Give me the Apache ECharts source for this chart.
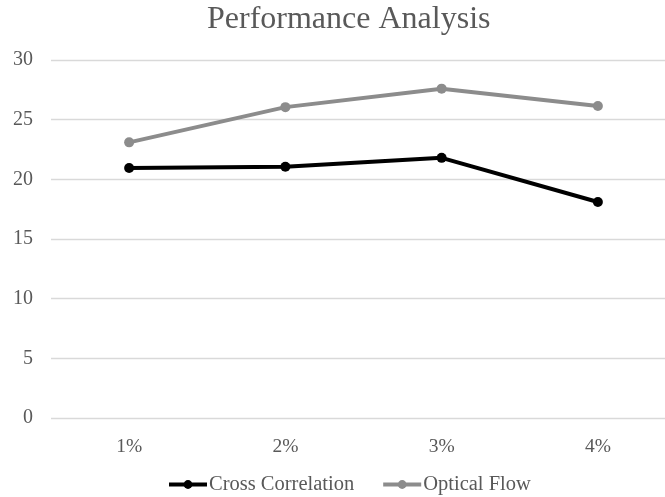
<!DOCTYPE html>
<html>
<head>
<meta charset="utf-8">
<script src="https://cdn.jsdelivr.net/npm/echarts@6/dist/echarts.min.js"></script>
<style>html,body{margin:0;padding:0;background:#fff;overflow:hidden}#c{width:680px;height:497px}</style>
</head>
<body>
<div id="c"></div>
<script>
var categories = ['1%', '2%', '3%', '4%'];
var crossCorrelation = [20.95, 21.05, 21.8, 18.1];
var opticalFlow = [23.1, 26.05, 27.6, 26.15];
var yTicks = [0, 5, 10, 15, 20, 25, 30];

var font = '"Liberation Serif", "DejaVu Serif", serif';
var chart = echarts.init(document.getElementById('c'), null, {renderer: 'canvas'});
chart.setOption({
  animation: false,
  backgroundColor: '#ffffff',
  title: {
    text: 'Performance Analysis',
    left: 202,
    top: -1,
    textStyle: {fontFamily: font, fontSize: 32, fontWeight: 'normal', color: '#595959'}
  },
  legend: {
    bottom: -3,
    left: 162,
    itemWidth: 38,
    itemHeight: 11,
    itemGap: 27,
    lineStyle: {width: 4},
    textStyle: {fontFamily: font, fontSize: 20.5, color: '#595959', padding: [0, 0, 0, -3]},
    data: ['Cross Correlation', 'Optical Flow']
  },
  grid: {left: 51, right: 4, top: 60, bottom: 79, containLabel: false},
  xAxis: {
    type: 'category',
    data: categories,
    boundaryGap: true,
    axisLine: {show: false},
    axisTick: {show: false},
    axisLabel: {fontFamily: font, fontSize: 19.5, color: '#595959', margin: 19}
  },
  yAxis: {
    type: 'value',
    min: yTicks[0],
    max: yTicks[yTicks.length - 1],
    interval: 5,
    axisLine: {show: false},
    axisTick: {show: false},
    splitLine: {lineStyle: {color: '#d9d9d9', width: 1.3}},
    axisLabel: {fontFamily: font, fontSize: 20, color: '#595959', margin: 18}
  },
  series: [
    {
      name: 'Cross Correlation',
      type: 'line',
      data: crossCorrelation,
      symbol: 'circle',
      symbolSize: 10,
      lineStyle: {color: '#000000', width: 4},
      itemStyle: {color: '#000000'}
    },
    {
      name: 'Optical Flow',
      type: 'line',
      data: opticalFlow,
      symbol: 'circle',
      symbolSize: 10,
      lineStyle: {color: '#8c8c8c', width: 4},
      itemStyle: {color: '#8c8c8c'}
    }
  ]
});
</script>
</body>
</html>
